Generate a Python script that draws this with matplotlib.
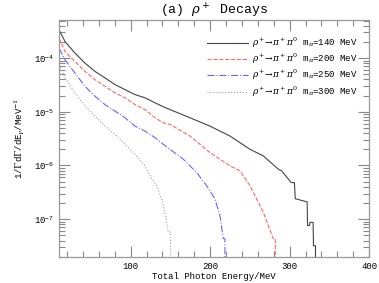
import numpy as np
import matplotlib
matplotlib.use('Agg')
import matplotlib.pyplot as plt
from matplotlib.ticker import MultipleLocator, LogLocator, NullFormatter

plt.rcParams['font.family'] = ['Liberation Mono', 'DejaVu Sans']
plt.rcParams['mathtext.fontset'] = 'dejavuserif'

# photon energy (MeV) and 1/G dG/dE values
e_140 = [10, 17.4, 29.9, 42.5, 55.1, 67.7, 80.3, 92.8, 105.4, 118.0, 130.6, 141.0, 149.4,
         174.6, 199.7, 224.9, 250.1, 266.8, 285.7, 290, 302, 306, 307, 322, 322.5, 325,
         325.5, 329.5, 330, 332.5, 332.5]
v_140 = [3.34e-4, 2.03e-4, 1.24e-4, 8.07e-5, 5.65e-5, 4.27e-5, 3.21e-5, 2.59e-5, 2.09e-5,
         1.82e-5, 1.47e-5, 1.24e-5, 1.10e-5, 7.74e-6, 5.41e-6, 3.53e-6, 2.00e-6, 1.51e-6,
         8.53e-7, 7.9e-7, 4.8e-7, 4.8e-7, 2.4e-7, 2.1e-7, 7.6e-8, 7.6e-8, 8.7e-8, 8.7e-8,
         3.2e-8, 3.2e-8, 0]

e_200 = [10, 17.4, 29.9, 42.5, 55.1, 67.7, 80.3, 92.8, 105.4, 118.0, 130.6, 141.0, 149.4,
         174.6, 199.7, 224.9, 237.5, 250.1, 258.5, 266.8, 273.1, 279.4, 282, 282]
v_200 = [2.34e-4, 1.32e-4, 8.65e-5, 5.65e-5, 3.96e-5, 2.98e-5, 2.25e-5, 1.82e-5, 1.36e-5,
         1.10e-5, 7.74e-6, 6.25e-6, 5.82e-6, 3.53e-6, 1.74e-6, 9.84e-7, 7.94e-7, 4.19e-7,
         2.38e-7, 1.35e-7, 7.60e-8, 4.32e-8, 4.32e-8, 0]

e_250 = [10, 17.4, 29.9, 42.5, 55.1, 67.7, 80.3, 92.8, 105.4, 118.0, 130.6, 141.0, 149.4,
         166.2, 183.0, 195.6, 206.0, 212.3, 216.5, 218.6, 218.6]
v_250 = [1.53e-4, 9.31e-5, 5.27e-5, 2.98e-5, 1.95e-5, 1.36e-5, 1.03e-5, 7.74e-6, 5.41e-6,
         4.38e-6, 3.30e-6, 2.48e-6, 2.00e-6, 1.31e-6, 7.41e-7, 4.19e-7, 2.38e-7, 1.17e-7,
         4.32e-8, 4.32e-8, 0]

e_300 = [10, 17.4, 29.9, 42.5, 55.1, 67.7, 80.3, 92.8, 105.4, 118.0, 124.3, 132.7, 139.0,
         143.1, 147.3, 150.3, 150.3]
v_300 = [7.52e-5, 4.27e-5, 2.24e-5, 1.27e-5, 8.30e-6, 5.41e-6, 3.80e-6, 2.48e-6, 1.62e-6,
         9.84e-7, 6.41e-7, 4.19e-7, 2.38e-7, 1.35e-7, 5.74e-8, 5.74e-8, 0]

masses = [140, 200, 250, 300]

fig = plt.figure(figsize=(3.79, 2.83), dpi=100)
ax = fig.add_axes([0.156, 0.093, 0.818, 0.836])

#one curve per pion mass
styles = [('#444444', '-'), ('#ff6666', '--'), ('#6666ff', '-.'), ('#a0a0a0', ':')]
for (e, v), m, (c, ls) in zip([(e_140, v_140), (e_200, v_200), (e_250, v_250), (e_300, v_300)],
                              masses, styles):
    ax.plot(e, v, color=c, ls=ls, lw=0.8,
            label=r'$\rho^+\!\!\rightarrow\!\pi^+\pi^0$ m$_\pi$=%d MeV' % m)

ax.set_yscale('log', nonpositive='clip')
ax.set_xlim(10, 400)
ax.set_ylim(2.0e-8, 5.1e-4)

#axis styling
ax.xaxis.set_major_locator(MultipleLocator(100))
ax.xaxis.set_minor_locator(MultipleLocator(20))
ax.yaxis.set_major_locator(LogLocator(base=10))
ax.yaxis.set_minor_locator(LogLocator(base=10, subs=np.arange(2, 10)))
ax.yaxis.set_minor_formatter(NullFormatter())
ax.tick_params(which='both', direction='in', top=True, right=True, color='#888888',
               labelsize=6.5, width=0.8)
ax.tick_params(which='major', length=8)
ax.tick_params(which='minor', length=4)
for s in ax.spines.values():
    s.set_color('#999999')
    s.set_linewidth(0.9)

ax.set_xlabel('Total Photon Energy/MeV', fontsize=6.5, labelpad=1)
ax.set_ylabel(r'1/$\Gamma$d$\Gamma$/dE$_\gamma$/MeV$^{-1}$', fontsize=6.5, labelpad=5)
ax.set_title(r'(a) $\rho^+$ Decays', fontsize=9.5, pad=4)

leg = ax.legend(loc='upper right', fontsize=6.5, frameon=False, handlelength=4.5,
                labelspacing=0.22, bbox_to_anchor=(0.99, 0.97), handletextpad=0.5)

fig.savefig('out.png', dpi=100)
